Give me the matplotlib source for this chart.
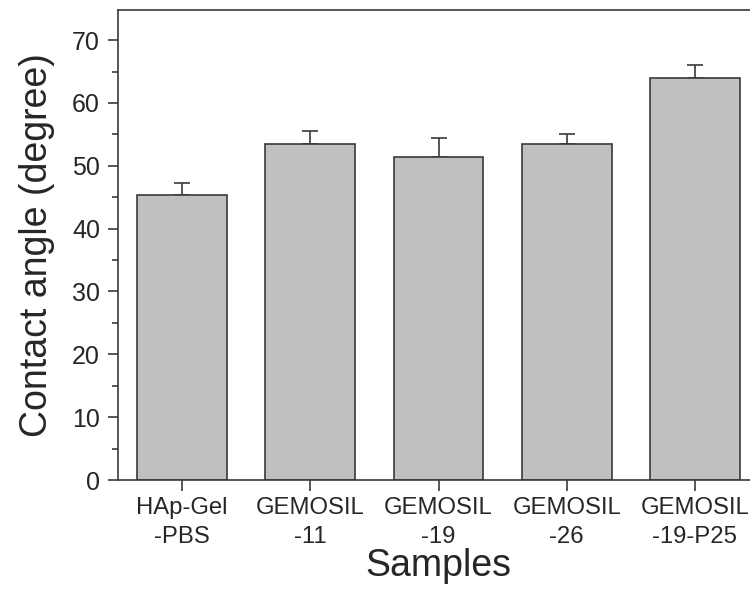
import matplotlib
matplotlib.use("Agg")
import matplotlib.pyplot as plt
import numpy as np

categories = ["HAp-Gel\n-PBS", "GEMOSIL\n-11", "GEMOSIL\n-19", "GEMOSIL\n-26", "GEMOSIL\n-19-P25"]
values = [45.4, 53.4, 51.4, 53.4, 63.9]
errors = [1.9, 2.1, 3.1, 1.6, 2.1]

plt.rcParams['font.family'] = ['Liberation Sans', 'DejaVu Sans']
txt = '#262626'
line = '#3a3a3a'

fig = plt.figure(figsize=(7.5, 5.91), dpi=100)
ax = fig.add_axes([118/750, 1-480/591, (759-118)/750, (480-10)/591])

x = np.arange(len(categories))
ax.bar(x, values, width=0.70, color='#c0c0c0', edgecolor=line, linewidth=1.2, zorder=2)
ax.errorbar(x, values, yerr=[np.zeros(len(errors)), errors], fmt='none',
            ecolor=line, elinewidth=1.2, capsize=6, capthick=1.2, zorder=1)

ax.set_xlim(-0.5, 4.5)
ax.set_ylim(0, 74.8)
ax.set_yticks([0, 10, 20, 30, 40, 50, 60, 70])
ax.set_yticks(np.arange(5, 75, 10), minor=True)
ax.set_xticks(x)
ax.set_xticklabels(categories, linespacing=1.45)

for s in ax.spines.values():
    s.set_color(line)
    s.set_linewidth(1.2)

ax.tick_params(axis='both', which='major', direction='out', length=7, width=1.2,
               colors=line, labelcolor=txt, pad=6)
ax.tick_params(axis='y', which='major', labelsize=18)
ax.tick_params(axis='y', which='minor', direction='out', length=4, width=1.2, colors=line)
ax.tick_params(axis='x', which='major', length=8, pad=4, labelsize=17.2)

ax.set_ylabel("Contact angle (degree)", fontsize=27, color=txt, labelpad=12)
ax.set_xlabel("Samples", fontsize=27, color=txt, labelpad=0)

fig.savefig("out.png", dpi=100)
